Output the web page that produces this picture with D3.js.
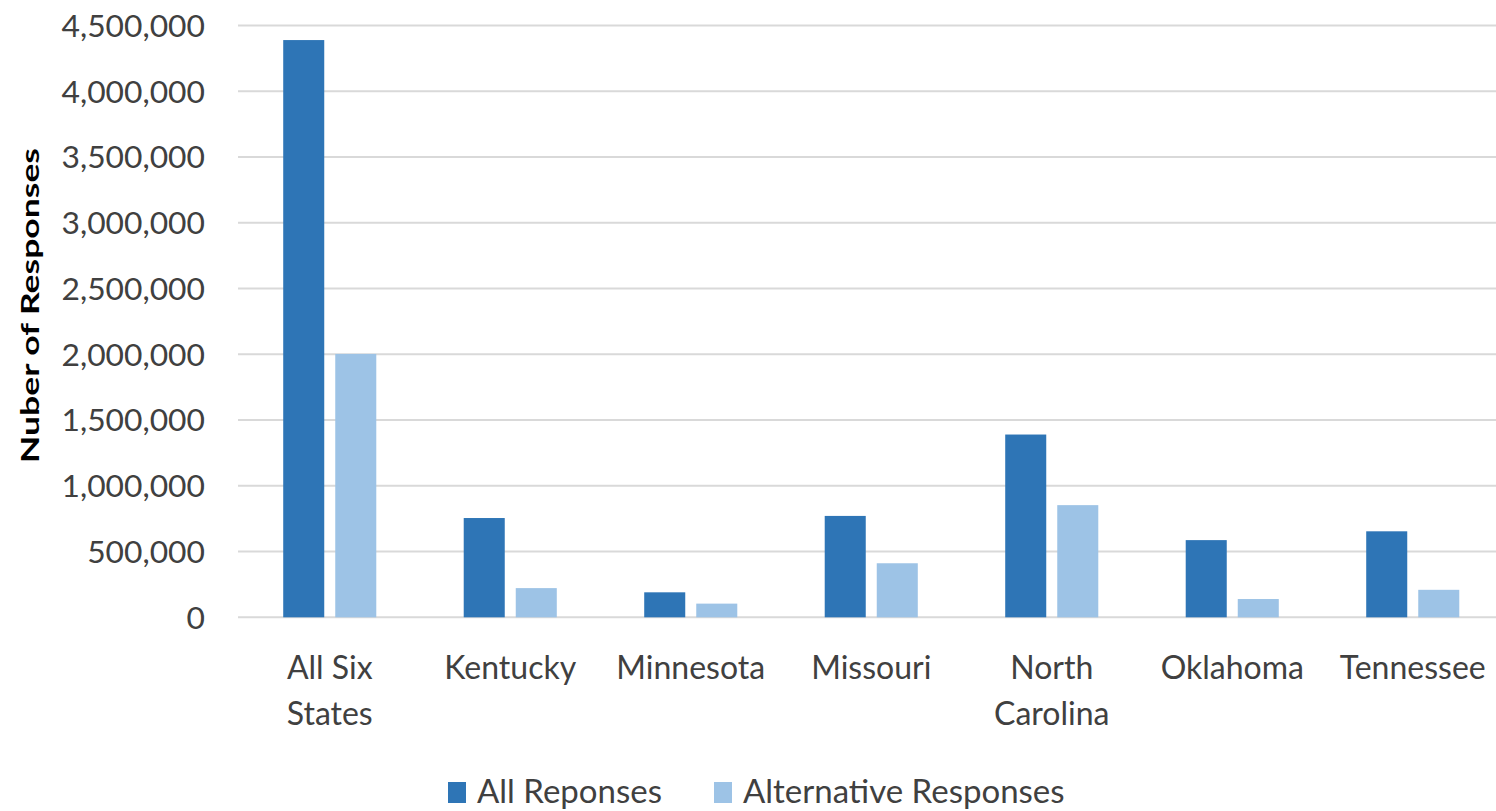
<!DOCTYPE html>
<html>
<head>
<meta charset="utf-8">
<script src="https://cdn.jsdelivr.net/npm/d3@7"></script>
<style>
  html, body { margin: 0; padding: 0; background: #fff; }
  svg { display: block; }
  text { font-family: Lato, "Open Sans", sans-serif; fill: #404040; }
</style>
</head>
<body>
<svg id="chart" width="1496" height="811"></svg>
<script>
const categories = [["All Six", "States"], ["Kentucky"], ["Minnesota"], ["Missouri"], ["North", "Carolina"], ["Oklahoma"], ["Tennessee"]];
const seriesNames = ["All Reponses", "Alternative Responses"];
const allResponses = [4390000, 755000, 190000, 771000, 1390000, 587000, 654000];
const altResponses = [2003000, 222000, 104000, 411000, 853000, 139000, 209000];
const yTicks = [0, 500000, 1000000, 1500000, 2000000, 2500000, 3000000, 3500000, 4000000, 4500000];
const colors = ["#2E75B6", "#9DC3E6"];
const yTitle = "Nuber of Responses";

const svg = d3.select("#chart");
const W = 1496, H = 811;
const plot = { left: 239.5, right: 1503, top: 25.6, bottom: 617.3 };

const catKeys = categories.map(c => c.join(" "));
const x = d3.scaleBand().domain(catKeys).range([plot.left, plot.right]);
const xs = d3.scaleBand().domain(seriesNames).range([0, x.bandwidth()])
  .paddingInner(0.2115).paddingOuter(0.84);
const y = d3.scaleLinear().domain([0, 4500000]).range([plot.bottom, plot.top]);

// gridlines
svg.append("g").selectAll("line").data(yTicks).join("line")
  .attr("x1", 238).attr("x2", W)
  .attr("y1", d => y(d)).attr("y2", d => y(d))
  .attr("stroke", "#D9D9D9").attr("stroke-width", 2);

// y axis labels
const yAxis = d3.axisLeft(y).tickValues(yTicks).tickFormat(d3.format(",")).tickSize(0).tickPadding(0);
const gy = svg.append("g").attr("transform", "translate(205,0)").call(yAxis);
gy.select(".domain").remove();
gy.selectAll("text").style("font-size", "30px").style("font-family", "Lato, sans-serif")
  .attr("fill", "#404040").attr("dy", "0.36em").attr("x", 0)
  .attr("transform", "scale(1.06,1)");

// bars
const data = catKeys.map((k, i) => ({ key: k, values: [allResponses[i], altResponses[i]] }));
const groups = svg.append("g").selectAll("g").data(data).join("g")
  .attr("transform", d => `translate(${x(d.key)},0)`);
groups.selectAll("rect").data(d => d.values.map((v, j) => ({ s: seriesNames[j], v, j })))
  .join("rect")
  .attr("x", d => xs(d.s)).attr("width", xs.bandwidth())
  .attr("y", d => y(d.v)).attr("height", d => y(0) - y(d.v))
  .attr("fill", d => colors[d.j]);

// x labels
const xl = svg.append("g").selectAll("text").data(categories).join("text")
  .attr("x", (d, i) => x(catKeys[i]) + x.bandwidth() / 2)
  .attr("y", 679)
  .attr("text-anchor", "middle")
  .style("font-size", "32px");
xl.selectAll("tspan").data(d => d).join("tspan")
  .attr("x", function () { return d3.select(this.parentNode).attr("x"); })
  .attr("dy", (d, i) => i === 0 ? 0 : 46)
  .text(d => d);

// y title
svg.append("text")
  .attr("transform", "translate(39,305.5) rotate(-90)")
  .attr("text-anchor", "middle")
  .attr("textLength", 315).attr("lengthAdjust", "spacingAndGlyphs")
  .style("font-size", "24px").style("font-weight", "bold")
  .style("fill", "#000")
  .text(yTitle);

// legend
const legendItems = [{ name: seriesNames[0], x: 448, c: colors[0] }, { name: seriesNames[1], x: 714, c: colors[1] }];
const lg = svg.append("g").selectAll("g").data(legendItems).join("g")
  .attr("transform", d => `translate(${d.x},0)`);
lg.append("rect").attr("x", 0).attr("y", 782).attr("width", 18).attr("height", 21).attr("fill", d => d.c);
lg.append("text").attr("x", 29).attr("y", 803).style("font-size", "33px").text(d => d.name);
</script>
</body>
</html>
